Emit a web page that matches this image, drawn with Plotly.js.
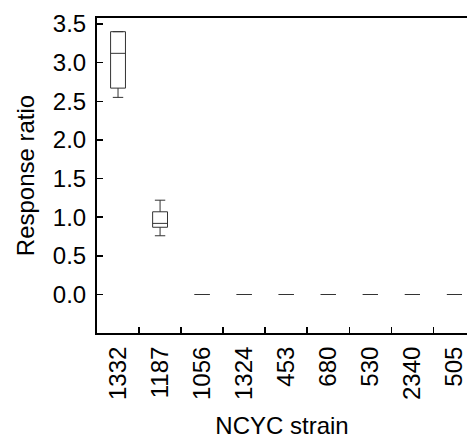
<!DOCTYPE html>
<html>
<head>
<meta charset="utf-8">
<script src="https://cdn.plot.ly/plotly-3.0.1.min.js"></script>
<style>html,body{margin:0;padding:0;background:#fff;overflow:hidden}#chart{width:467px;height:439px}</style>
</head>
<body>
<div id="chart"></div>
<script>
const strains = ['1332','1187','1056','1324','453','680','530','2340','505'];
const q1 = [2.67, 0.87, 0, 0, 0, 0, 0, 0, 0];
const median = [3.12, 0.92, 0, 0, 0, 0, 0, 0, 0];
const q3 = [3.40, 1.07, 0, 0, 0, 0, 0, 0, 0];
const lowerfence = [2.55, 0.76, 0, 0, 0, 0, 0, 0, 0];
const upperfence = [3.40, 1.22, 0, 0, 0, 0, 0, 0, 0];
const yTicks = [0, 0.5, 1, 1.5, 2, 2.5, 3, 3.5];

const font = {family: 'Liberation Sans, Arial, sans-serif', size: 24, color: '#000'};

const trace = {
  type: 'box',
  x: strains,
  q1: q1, median: median, q3: q3,
  lowerfence: lowerfence, upperfence: upperfence,
  width: 0.354,
  whiskerwidth: 0.7,
  fillcolor: 'rgba(0,0,0,0)',
  line: {color: '#333', width: 1},
  boxpoints: false,
  hoverinfo: 'none',
  showlegend: false
};

const layout = {
  width: 467, height: 439,
  margin: {l: 97, r: 0, t: 18, b: 106},
  paper_bgcolor: '#fff', plot_bgcolor: '#fff',
  font: font,
  showlegend: false,
  xaxis: {
    type: 'category',
    categoryorder: 'array', categoryarray: strains,
    range: [-0.5, 8.3],
    showline: true, linecolor: '#000', linewidth: 2, mirror: true,
    ticks: 'inside', tickson: 'boundaries', ticklen: 6, tickwidth: 1.5, tickcolor: '#000',
    tickangle: -90,
    tickfont: font,
    ticklabelstandoff: 2,
    showgrid: false, zeroline: false,
    title: {text: 'NCYC strain', font: font, standoff: 24},
    automargin: false
  },
  yaxis: {
    range: [-0.498, 3.577],
    tickvals: yTicks,
    tickformat: '.1f',
    showline: true, linecolor: '#000', linewidth: 2, mirror: false,
    ticks: 'inside', ticklen: 6, tickwidth: 1.5, tickcolor: '#000',
    tickfont: font,
    ticklabelstandoff: 4,
    showgrid: false, zeroline: false,
    title: {text: 'Response ratio', font: font, standoff: 11},
    automargin: false
  }
};

Plotly.newPlot('chart', [trace], layout, {staticPlot: true, displayModeBar: false});
</script>
</body>
</html>
